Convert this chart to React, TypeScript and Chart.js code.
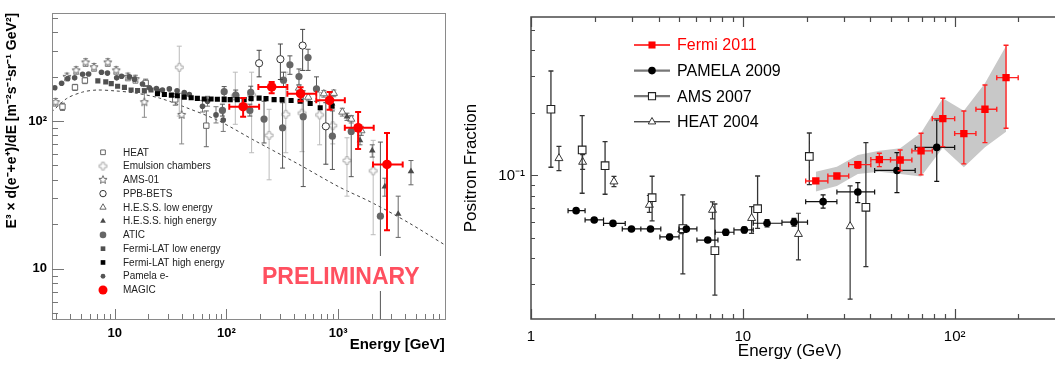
import React, { useEffect, useRef } from 'react';
import { Chart, registerables } from 'chart.js';

Chart.register(...registerables);
const FONT = "'Liberation Sans', Arial, Helvetica, sans-serif";
Chart.defaults.font.family = FONT;
Chart.defaults.color = '#000';

/* ================= Left panel: e+e- spectrum ================= */
const L_X_TICKS = [10, 100, 1000];
const L_X_LABELS = ['10', '10²', '10³'];
const L_Y_TICKS = [10, 100];
const L_Y_LABELS = ['10', '10²'];

const MODEL_E = [2.72, 3.71, 5.15, 6.87, 9.94, 15, 25.1, 46.5, 86, 177, 446, 1012, 1995, 4270, 8770];
const MODEL_V = [115, 142, 157, 162, 160, 155, 143, 121, 100, 74, 50.8, 35.9, 28.1, 20.5, 14.7];

const HEAT_E = [3.4, 4.4, 5.4, 18.9, 34.8, 66];
const HEAT_V = [125, 169, 188, 181, 140, 93];
const HEAT_LO = [118, 161, 179, 171, 128, 67];
const HEAT_HI = [132, 177, 197, 192, 153, 117];

const EMUL_E = [37.8, 120, 168, 241, 340, 475, 683, 895, 1200, 2060];
const EMUL_V = [231, 148, 150, 80, 111, 113, 110, 93, 54, 46];
const EMUL_LO = [108, 95, 61, 40, 61, 62, 69, 70, 31, 17];
const EMUL_HI = [321, 214, 214, 120, 214, 160, 156, 120, 77, 74];

const AMS01_E = [2.95, 3.73, 4.51, 5.48, 6.52, 8.66, 10.3, 13.1, 15.3, 18.4, 39.7];
const AMS01_V = [134, 199, 220, 249, 231, 249, 220, 199, 192, 134, 110];
const AMS01_LO = [126, 187, 207, 234, 217, 234, 207, 187, 180, 106, 70];
const AMS01_HI = [142, 211, 233, 264, 245, 264, 233, 211, 204, 166, 154];

const PPB_E = [196, 304, 481, 776];
const PPB_V = [246, 262, 324, 92];
const PPB_LO = [199, 191, 220, 51];
const PPB_HI = [301, 332, 417, 133];

const HESSL_E = [446, 540, 745, 915, 1090, 1310, 1615];
const HESSL_V = [167, 145, 153, 154, 115, 103, 86];
const HESSL_LO = [158, 137, 145, 146, 108, 97, 80];
const HESSL_HI = [176, 153, 161, 162, 122, 109, 92];

const HESSH_E = [883, 1200, 1570, 2020, 2620, 3450, 4490];
const HESSH_V = [131, 107, 74, 63, 36, 23.5, 45.6];
const HESSH_LO = [124, 101, 69, 57, 31, 16.3, 37];
const HESSH_HI = [138, 113, 80, 69, 41, 31, 54];

const ATIC_E = [92, 95.4, 121, 162, 165, 217, 318, 324, 370, 446, 487, 538, 640, 888, 1310, 2390];
const ATIC_V = [118, 158, 150, 118, 156, 103, 90, 189, 240, 200, 107, 269, 165, 79, 85, 22.7];
const ATIC_LO = [108, 146, 139, 108, 140, 71, 48, 171, 207, 175, 36, 220, 136, 47, 42, 4.5];
const ATIC_HI = [130, 171, 162, 130, 172, 136, 133, 214, 276, 225, 160, 306, 199, 117, 108, 72];

const PAM_E = [2.9, 3.34, 3.79, 4.37, 5.15, 5.83, 7.6, 8.6, 10.4, 11.5, 13.5, 15, 17.7, 20.4, 23.6, 26.7, 30.8, 36.1, 41.9, 46.5, 61, 67.7, 80.6, 93.6];
const PAM_V = [168, 180, 194, 196, 207, 208, 214, 211, 196, 201, 199, 192, 178, 168, 166, 162, 165, 160, 156, 151, 126, 136, 110, 101.5];
const PAM_LO = [null, null, null, null, null, null, null, null, null, null, null, null, null, null, null, null, null, null, null, null, 115, 126, 97, 85];
const PAM_HI = [null, null, null, null, null, null, null, null, null, null, null, null, null, null, null, null, null, null, null, null, 138, 147, 125, 120];

const FLOW_E = [7.05, 8.3, 9.3, 10.6, 12.2, 14, 16, 18.4, 21.1, 24.2];
const FLOW_V = [187, 184, 179, 172, 169, 162, 161, 160, 162, 159];

const FHIGH_E = [24.1, 27.8, 32.1, 36.3, 41.9, 48.3, 54.9, 63.2, 72.8, 82.9, 95.4, 108, 125, 144, 166, 196, 226, 267, 315, 379, 457, 562, 691, 882];
const FHIGH_V = [152.8, 151.2, 149.6, 148.3, 145.1, 143.8, 142.3, 140.8, 140.8, 140.2, 139.5, 139.5, 139.5, 139.5, 141.7, 142.9, 141.7, 139.5, 139.5, 137.5, 136, 131.3, 122.9, 126.1];

const MAGIC_E = [141, 254, 461, 838, 1510, 2738];
const MAGIC_V = [125, 170, 153, 138, 90, 50.8];
const MAGIC_ELO = [106, 193, 351, 637, 1148, 2053];
const MAGIC_EHI = [196, 351, 637, 1148, 2083, 3785];
const MAGIC_LO = [107, 154, 136, 119, 64.7, 18.2];
const MAGIC_HI = [143, 184, 169, 157, 115, 82.8];

/* ================= Right panel: positron fraction ================= */
const R_X_TICKS = [1, 10, 100];
const R_X_LABELS = ['1', '10', '10²'];
const R_Y_TICKS = [0.1];
const R_Y_LABELS = ['10⁻¹'];

const FERMI_E = [22.1, 27.8, 34.9, 44.1, 55.3, 69.4, 87.9, 110.5, 139, 174.8];
const FERMI_F = [0.0941, 0.0994, 0.1127, 0.1192, 0.1187, 0.1312, 0.1875, 0.1589, 0.2081, 0.2953];
const FERMI_ELO = [19.8, 25.2, 31.6, 40.2, 49.8, 62.8, 78.4, 100, 126, 158];
const FERMI_EHI = [25.2, 31.6, 40.2, 49.8, 62.8, 78.4, 100, 126, 158, 199.5];
const FERMI_FLO = [0.0917, 0.0969, 0.1083, 0.1102, 0.1054, 0.1006, 0.1376, 0.1136, 0.1438, 0.1686];
const FERMI_FHI = [0.0965, 0.1017, 0.1165, 0.1279, 0.1326, 0.1596, 0.235, 0.2042, 0.2723, 0.4227];
const BAND_UP = [0.1043, 0.1102, 0.1255, 0.1316, 0.1351, 0.1606, 0.235, 0.2049, 0.2775, 0.4194];
const BAND_LO = [0.0836, 0.089, 0.1017, 0.1043, 0.1017, 0.0987, 0.136, 0.1095, 0.1366, 0.1624];

const PAMELA_E = [1.633, 1.988, 2.438, 2.98, 3.666, 4.51, 5.411, 6.83, 8.31, 10.16, 13.01, 17.44, 23.93, 34.9, 53.4, 82.3];
const PAMELA_F = [0.0677, 0.0611, 0.0588, 0.0553, 0.0553, 0.0506, 0.0553, 0.0489, 0.0533, 0.0547, 0.0589, 0.0596, 0.0748, 0.0833, 0.1057, 0.1364];
const PAMELA_ELO = [1.496, 1.8, 2.2, 2.697, 3.3, 4.06, 5.0, 6.07, 7.41, 9.08, 11.2, 15.3, 19.8, 27.8, 41.9, 65.1];
const PAMELA_EHI = [1.8, 2.2, 2.785, 3.3, 4.1, 5.0, 6.07, 7.63, 9.08, 11.2, 15.3, 20.2, 27.8, 41.9, 65.1, 100];
const PAMELA_FLO = [0.0665, 0.0601, 0.0578, 0.0545, 0.0545, 0.0491, 0.054, 0.0476, 0.0515, 0.053, 0.0565, 0.057, 0.0696, 0.074, 0.0827, 0.0936];
const PAMELA_FHI = [0.069, 0.0621, 0.0598, 0.0561, 0.0561, 0.0521, 0.0566, 0.0502, 0.0551, 0.0564, 0.0613, 0.0622, 0.0806, 0.0923, 0.1287, 0.1848];

const AMS_E = [1.242, 1.744, 2.237, 3.73, 5.21, 7.38, 11.74, 20.6, 38.1];
const AMS_F = [0.2081, 0.1326, 0.1114, 0.0782, 0.0555, 0.0435, 0.0692, 0.1234, 0.0703];
const AMS_FLO = [0.1095, 0.0821, 0.0812, 0.0604, 0.0336, 0.0266, 0.0557, 0.0903, 0.0364];
const AMS_FHI = [0.3179, 0.1938, 0.1454, 0.0991, 0.0806, 0.0729, 0.0994, 0.16, 0.1438];

const HEAT04_E = [1.355, 1.753, 2.464, 3.62, 5.14, 7.19, 11.0, 18.3, 32.1];
const HEAT04_F = [0.1209, 0.1161, 0.0934, 0.0721, 0.0549, 0.0682, 0.0623, 0.0522, 0.0569];
const HEAT04_FLO = [0.1054, 0.107, 0.0884, 0.0665, 0.0525, 0.0618, 0.0527, 0.0393, 0.0254];
const HEAT04_FHI = [0.1381, 0.126, 0.0989, 0.0801, 0.0575, 0.0746, 0.0708, 0.0658, 0.089];

/* ================= helpers ================= */
function pts(E: number[], V: number[], lo?: any[], hi?: any[], xlo?: number[], xhi?: number[]) {
  return E.map((x, i) => {
    const p: any = { x, y: V[i] };
    if (lo && hi && lo[i] != null && hi[i] != null) { p.yMin = lo[i]; p.yMax = hi[i]; }
    if (xlo && xhi) { p.xMin = xlo[i]; p.xMax = xhi[i]; }
    return p;
  });
}

function makeStar(r: number, color: string) {
  const s = Math.ceil(2 * r + 3);
  const c = document.createElement('canvas');
  c.width = s; c.height = s;
  const g = c.getContext('2d')!;
  const m = s / 2;
  g.beginPath();
  for (let i = 0; i < 10; i++) {
    const a = -Math.PI / 2 + (i * Math.PI) / 5;
    const rr = i % 2 === 0 ? r : r * 0.45;
    const px = m + rr * Math.cos(a), py = m + rr * Math.sin(a);
    if (i === 0) g.moveTo(px, py); else g.lineTo(px, py);
  }
  g.closePath();
  g.fillStyle = '#fff'; g.fill();
  g.strokeStyle = color; g.lineWidth = 1; g.stroke();
  return c;
}

function makeCross(r: number, w: number, color: string) {
  const s = Math.ceil(2 * r + 3);
  const c = document.createElement('canvas');
  c.width = s; c.height = s;
  const g = c.getContext('2d')!;
  const m = s / 2;
  const P = [[-w, -r], [w, -r], [w, -w], [r, -w], [r, w], [w, w], [w, r], [-w, r], [-w, w], [-r, w], [-r, -w], [-w, -w]];
  g.beginPath();
  P.forEach(([dx, dy], i) => (i ? g.lineTo(m + dx, m + dy) : g.moveTo(m + dx, m + dy)));
  g.closePath();
  g.fillStyle = '#fff'; g.fill();
  g.strokeStyle = color; g.lineWidth = 1; g.stroke();
  return c;
}

function drawMarker(ctx: CanvasRenderingContext2D, m: any, x: number, y: number) {
  if (m.img) { ctx.drawImage(m.img, x - m.img.width / 2, y - m.img.height / 2); return; }
  const r = m.r;
  ctx.beginPath();
  if (m.style === 'circle') ctx.arc(x, y, r, 0, Math.PI * 2);
  else if (m.style === 'rect') { const s = r * Math.SQRT1_2; ctx.rect(x - s, y - s, 2 * s, 2 * s); }
  else if (m.style === 'triangle') {
    for (let k = 0; k < 3; k++) {
      const a = (k * 2 * Math.PI) / 3;
      const px = x + Math.sin(a) * r, py = y - Math.cos(a) * r;
      if (k) ctx.lineTo(px, py); else ctx.moveTo(px, py);
    }
    ctx.closePath();
  }
  if (m.fill) { ctx.fillStyle = m.fill; ctx.fill(); }
  if (m.stroke) { ctx.strokeStyle = m.stroke; ctx.lineWidth = m.lw || 1; ctx.stroke(); }
}

const errPlugin = {
  id: 'errbars',
  beforeDatasetDraw(chart: any, args: any) {
    const ds = chart.data.datasets[args.index];
    const e = ds.err;
    if (!e) return;
    const { ctx, chartArea: a } = chart;
    const xs = chart.scales.x, ys = chart.scales.y;
    ctx.save();
    ctx.beginPath();
    ctx.rect(a.left, a.top, a.right - a.left, a.bottom - a.top);
    ctx.clip();
    ctx.strokeStyle = e.color;
    ctx.lineWidth = e.width;
    ctx.beginPath();
    for (const p of ds.data) {
      const px = xs.getPixelForValue(p.x), py = ys.getPixelForValue(p.y);
      if (p.yMin != null) {
        const y1 = ys.getPixelForValue(p.yMin), y2 = ys.getPixelForValue(p.yMax);
        ctx.moveTo(px, y1); ctx.lineTo(px, y2);
        if (e.cap) {
          ctx.moveTo(px - e.cap, y1); ctx.lineTo(px + e.cap, y1);
          ctx.moveTo(px - e.cap, y2); ctx.lineTo(px + e.cap, y2);
        }
      }
      if (p.xMin != null) {
        const x1 = xs.getPixelForValue(p.xMin), x2 = xs.getPixelForValue(p.xMax);
        ctx.moveTo(x1, py); ctx.lineTo(x2, py);
        if (e.cap) {
          ctx.moveTo(x1, py - e.cap); ctx.lineTo(x1, py + e.cap);
          ctx.moveTo(x2, py - e.cap); ctx.lineTo(x2, py + e.cap);
        }
      }
    }
    ctx.stroke();
    ctx.restore();
  },
};

function decades(lo: number, hi: number) {
  const out: number[] = [];
  for (let d = Math.floor(Math.log10(lo)); d <= Math.ceil(Math.log10(hi)); d++) {
    for (let k = 2; k <= 9; k++) {
      const v = k * Math.pow(10, d);
      if (v >= lo && v <= hi) out.push(v);
    }
  }
  return out;
}

function drawLogTicks(chart: any, o: any) {
  const { ctx, chartArea: a } = chart;
  const xs = chart.scales.x, ys = chart.scales.y;
  ctx.save();
  ctx.strokeStyle = o.color;
  ctx.lineWidth = o.lw;
  ctx.beginPath();
  const xt = (vals: number[], len: number) => vals.forEach((v) => {
    const px = Math.round(xs.getPixelForValue(v)) + 0.5;
    if (px < a.left || px > a.right) return;
    ctx.moveTo(px, a.bottom); ctx.lineTo(px, a.bottom - len);
    if (o.top) { ctx.moveTo(px, a.top); ctx.lineTo(px, a.top + len); }
  });
  const yt = (vals: number[], len: number) => vals.forEach((v) => {
    const py = Math.round(ys.getPixelForValue(v)) + 0.5;
    if (py < a.top || py > a.bottom) return;
    ctx.moveTo(a.left, py); ctx.lineTo(a.left + len, py);
  });
  xt(o.xMaj, o.xMajLen); xt(o.xMin, o.xMinLen);
  yt(o.yMaj, o.yMajLen); yt(o.yMin, o.yMinLen);
  ctx.stroke();
  ctx.restore();
}

/* ================= Left chart ================= */
function LeftChart() {
  const ref = useRef<HTMLCanvasElement>(null);
  useEffect(() => {
    const star = makeStar(4.3, '#6a6a6a');
    const cross = makeCross(3.8, 1.4, '#a8a8a8');
    const sc = (label: string, data: any[], style: any, r: number, bg: string, bd: string, bw: number, order: number, err?: any) => ({
      label, data, order, err,
      pointStyle: style, pointRadius: r, pointHoverRadius: r,
      pointBackgroundColor: bg, pointBorderColor: bd, pointBorderWidth: bw,
      backgroundColor: bg, borderColor: bd, borderWidth: bw,
    });
    const datasets: any[] = [
      sc('MAGIC', pts(MAGIC_E, MAGIC_V, MAGIC_LO, MAGIC_HI, MAGIC_ELO, MAGIC_EHI), 'circle', 4.8, '#ff0000', '#ff0000', 0, 0, { color: '#ff0000', width: 2, cap: 3 }),
      sc('Fermi-LAT high energy', pts(FHIGH_E, FHIGH_V), 'rect', 3.6, '#000', '#000', 0, 1),
      sc('Fermi-LAT low energy', pts(FLOW_E, FLOW_V), 'rect', 3.6, '#505050', '#505050', 0, 2),
      sc('PPB-BETS', pts(PPB_E, PPB_V, PPB_LO, PPB_HI), 'circle', 3.6, '#fff', '#333', 1, 3, { color: '#444', width: 1, cap: 2.5 }),
      sc('H.E.S.S. high energy', pts(HESSH_E, HESSH_V, HESSH_LO, HESSH_HI), 'triangle', 3.8, '#4a4a4a', '#4a4a4a', 0, 4, { color: '#666', width: 1, cap: 2.5 }),
      sc('H.E.S.S. low energy', pts(HESSL_E, HESSL_V, HESSL_LO, HESSL_HI), 'triangle', 4.2, '#fff', '#6a6a6a', 1, 5, { color: '#777', width: 1, cap: 2.5 }),
      sc('ATIC', pts(ATIC_E, ATIC_V, ATIC_LO, ATIC_HI), 'circle', 3.6, '#666', '#666', 0, 6, { color: '#555', width: 1, cap: 2.5 }),
      sc('Pamela e-', pts(PAM_E, PAM_V, PAM_LO, PAM_HI), 'circle', 2.8, '#555', '#555', 0, 7, { color: '#777', width: 1, cap: 2.5 }),
      sc('HEAT', pts(HEAT_E, HEAT_V, HEAT_LO, HEAT_HI), 'rect', 3.8, '#fff', '#666', 1, 8, { color: '#666', width: 1, cap: 2.5 }),
      sc('AMS-01', pts(AMS01_E, AMS01_V, AMS01_LO, AMS01_HI), star, 4.3, '#fff', '#777', 1, 9, { color: '#888', width: 1, cap: 2.5 }),
      sc('Emulsion chambers', pts(EMUL_E, EMUL_V, EMUL_LO, EMUL_HI), cross, 3.8, '#fff', '#aaa', 1, 10, { color: '#bbb', width: 1, cap: 2.5 }),
      {
        type: 'line', label: 'model', data: pts(MODEL_E, MODEL_V), order: 11,
        borderColor: '#444', borderWidth: 1, borderDash: [3, 3], pointRadius: 0, tension: 0.3, fill: false,
      },
    ];

    const legendRows = [
      { t: 'HEAT', style: 'rect', r: 3.3, fill: '#fff', stroke: '#666', lw: 1 },
      { t: 'Emulsion chambers', img: cross },
      { t: 'AMS-01', img: star },
      { t: 'PPB-BETS', style: 'circle', r: 3.2, fill: '#fff', stroke: '#333', lw: 1 },
      { t: 'H.E.S.S. low energy', style: 'triangle', r: 3.6, fill: '#fff', stroke: '#666', lw: 1 },
      { t: 'H.E.S.S. high energy', style: 'triangle', r: 3.3, fill: '#4a4a4a' },
      { t: 'ATIC', style: 'circle', r: 3.3, fill: '#666' },
      { t: 'Fermi-LAT low energy', style: 'rect', r: 3.3, fill: '#505050' },
      { t: 'Fermi-LAT high energy', style: 'rect', r: 3.3, fill: '#000' },
      { t: 'Pamela e-', style: 'circle', r: 2.4, fill: '#555' },
      { t: 'MAGIC', style: 'circle', r: 4.5, fill: '#ff0000' },
    ];

    const decor = {
      id: 'leftDecor',
      afterDatasetsDraw(chart: any) {
        const { ctx } = chart;
        ctx.save();
        ctx.fillStyle = '#fff';
        ctx.fillRect(259, 256, 166, 35);
        ctx.font = `bold 23px ${FONT}`;
        ctx.fillStyle = '#ff5060';
        ctx.textBaseline = 'alphabetic';
        ctx.fillText('PRELIMINARY', 262, 284);
        ctx.restore();
      },
      afterDraw(chart: any) {
        const { ctx, chartArea: a } = chart;
        ctx.save();
        ctx.strokeStyle = '#8a8a8a';
        ctx.lineWidth = 1;
        ctx.strokeRect(Math.round(a.left) + 0.5, Math.round(a.top) + 0.5, Math.round(a.right - a.left), Math.round(a.bottom - a.top));
        ctx.restore();
        drawLogTicks(chart, {
          color: '#777', lw: 1, top: false,
          xMaj: L_X_TICKS, xMajLen: 10, xMin: decades(2.7, 9000), xMinLen: 5,
          yMaj: L_Y_TICKS, yMajLen: 12, yMin: decades(4.5, 540), yMinLen: 6,
        });
        ctx.save();
        ctx.font = `10px ${FONT}`;
        ctx.textBaseline = 'middle';
        legendRows.forEach((row, i) => {
          const y = 152.3 + i * 13.77;
          drawMarker(ctx, row, 103, y);
          ctx.fillStyle = '#222';
          ctx.fillText(row.t, 123, y + 0.5);
        });
        ctx.restore();
      },
    };

    const chart = new Chart(ref.current!, {
      type: 'scatter',
      data: { datasets },
      plugins: [errPlugin, decor],
      options: {
        responsive: false,
        animation: false,
        events: [],
        layout: { padding: { left: 0, top: 4, right: 4, bottom: 0 } },
        plugins: { legend: { display: false }, tooltip: { enabled: false } },
        scales: {
          x: {
            type: 'logarithmic', min: 2.74, max: 9000,
            grid: { display: false, drawTicks: false }, border: { display: false },
            afterBuildTicks: (s: any) => { s.ticks = L_X_TICKS.map((v) => ({ value: v })); },
            afterFit: (s: any) => { s.height = 46; },
            ticks: {
              autoSkip: false, maxRotation: 0, padding: 7, color: '#000',
              font: { size: 13, weight: 'bold' },
              callback: (v: any) => { const i = L_X_TICKS.indexOf(Number(v)); return i >= 0 ? L_X_LABELS[i] : ''; },
            },
            title: { display: true, text: 'Energy [GeV]', align: 'end', color: '#000', font: { size: 15, weight: 'bold' }, padding: { top: 0, bottom: 11 } },
          },
          y: {
            type: 'logarithmic', min: 4.57, max: 540,
            grid: { display: false, drawTicks: false }, border: { display: false },
            afterBuildTicks: (s: any) => { s.ticks = L_Y_TICKS.map((v) => ({ value: v })); },
            afterFit: (s: any) => { s.width = 52; },
            ticks: {
              autoSkip: false, padding: 5, color: '#000',
              font: { size: 13, weight: 'bold' },
              callback: (v: any) => { const i = L_Y_TICKS.indexOf(Number(v)); return i >= 0 ? L_Y_LABELS[i] : ''; },
            },
            title: { display: true, text: 'E³ × d(e⁻+e⁺)/dE [m⁻²s⁻¹sr⁻¹ GeV²]', align: 'end', color: '#000', font: { size: 14, weight: 'bold' }, padding: { top: 4, bottom: 0 } },
          },
        },
      } as any,
    });
    return () => chart.destroy();
  }, []);
  return <canvas ref={ref} width={450} height={365} style={{ position: 'absolute', left: 0, top: 0, width: 450, height: 365 }} />;
}

/* ================= Right chart ================= */
function RightChart() {
  const ref = useRef<HTMLCanvasElement>(null);
  useEffect(() => {
    const sc = (label: string, data: any[], style: any, r: number, bg: string, bd: string, bw: number, order: number, err?: any) => ({
      label, data, order, err,
      pointStyle: style, pointRadius: r, pointHoverRadius: r,
      pointBackgroundColor: bg, pointBorderColor: bd, pointBorderWidth: bw,
      backgroundColor: bg, borderColor: bd, borderWidth: bw,
    });
    const datasets: any[] = [
      sc('Fermi 2011', pts(FERMI_E, FERMI_F, FERMI_FLO, FERMI_FHI, FERMI_ELO, FERMI_EHI), 'rect', 5.2, '#ff0000', '#ff0000', 0, 0, { color: '#ff2020', width: 1.4, cap: 2.5 }),
      sc('PAMELA 2009', pts(PAMELA_E, PAMELA_F, PAMELA_FLO, PAMELA_FHI, PAMELA_ELO, PAMELA_EHI), 'circle', 3.8, '#000', '#000', 0, 1, { color: '#111', width: 1.2, cap: 2.5 }),
      sc('AMS 2007', pts(AMS_E, AMS_F, AMS_FLO, AMS_FHI), 'rect', 5.4, '#fff', '#222', 1.1, 2, { color: '#333', width: 1.3, cap: 2.5 }),
      sc('HEAT 2004', pts(HEAT04_E, HEAT04_F, HEAT04_FLO, HEAT04_FHI), 'triangle', 4.6, '#fff', '#222', 0.9, 3, { color: '#333', width: 1.2, cap: 2.5 }),
      {
        type: 'line', label: 'band upper', data: pts(FERMI_E, BAND_UP), order: 5,
        borderWidth: 0, borderColor: 'rgba(0,0,0,0)', pointRadius: 0, tension: 0, fill: '+1', backgroundColor: '#c8c8c8',
      },
      {
        type: 'line', label: 'band lower', data: pts(FERMI_E, BAND_LO), order: 6,
        borderWidth: 0, borderColor: 'rgba(0,0,0,0)', pointRadius: 0, tension: 0, fill: false,
      },
    ];

    const legendRows = [
      { t: 'Fermi 2011', color: '#ff0000', line: '#ff0000', lw: 1.4, m: { style: 'rect', r: 5, fill: '#ff0000' } },
      { t: 'PAMELA 2009', color: '#000', line: '#777', lw: 2.2, m: { style: 'circle', r: 3.8, fill: '#000' } },
      { t: 'AMS 2007', color: '#000', line: '#777', lw: 2.2, m: { style: 'rect', r: 5, fill: '#fff', stroke: '#222', lw: 1.1 } },
      { t: 'HEAT 2004', color: '#000', line: '#000', lw: 1, m: { style: 'triangle', r: 4.3, fill: '#fff', stroke: '#222', lw: 0.9 } },
    ];

    const decor = {
      id: 'rightDecor',
      afterDraw(chart: any) {
        const { ctx, chartArea: a, width } = chart;
        ctx.save();
        ctx.strokeStyle = '#4a4a4a';
        ctx.lineWidth = 1.5;
        ctx.beginPath();
        ctx.moveTo(width, a.top); ctx.lineTo(a.left, a.top); ctx.lineTo(a.left, a.bottom); ctx.lineTo(width, a.bottom);
        ctx.stroke();
        ctx.restore();
        drawLogTicks(chart, {
          color: '#4a4a4a', lw: 1.2, top: true,
          xMaj: R_X_TICKS, xMajLen: 10, xMin: decades(1, 280), xMinLen: 5,
          yMaj: R_Y_TICKS, yMajLen: 7, yMin: decades(0.0204, 0.578), yMinLen: 4,
        });
        ctx.save();
        ctx.font = `16px ${FONT}`;
        ctx.textBaseline = 'middle';
        legendRows.forEach((row, i) => {
          const y = 45 + i * 25.6;
          ctx.strokeStyle = row.line; ctx.lineWidth = row.lw;
          ctx.beginPath(); ctx.moveTo(184, y); ctx.lineTo(220, y); ctx.stroke();
          drawMarker(ctx, row.m, 202, y);
          ctx.fillStyle = row.color;
          ctx.fillText(row.t, 227, y + 1);
        });
        ctx.restore();
      },
    };

    const chart = new Chart(ref.current!, {
      type: 'scatter',
      data: { datasets },
      plugins: [errPlugin, decor],
      options: {
        responsive: false,
        animation: false,
        events: [],
        layout: { padding: { left: 0, top: 17, right: 0, bottom: 0 } },
        plugins: { legend: { display: false }, tooltip: { enabled: false } },
        scales: {
          x: {
            type: 'logarithmic', min: 1, max: 277.3,
            grid: { display: false, drawTicks: false }, border: { display: false },
            afterBuildTicks: (s: any) => { s.ticks = R_X_TICKS.map((v) => ({ value: v })); },
            afterFit: (s: any) => { s.height = 46; },
            ticks: {
              autoSkip: false, maxRotation: 0, padding: 9, color: '#000',
              font: { size: 15 },
              callback: (v: any) => { const i = R_X_TICKS.indexOf(Number(v)); return i >= 0 ? R_X_LABELS[i] : ''; },
            },
            title: { display: true, text: 'Energy (GeV)', color: '#000', font: { size: 17 }, padding: { top: 0, bottom: 3 } },
          },
          y: {
            type: 'logarithmic', min: 0.0204, max: 0.578,
            grid: { display: false, drawTicks: false }, border: { display: false },
            afterBuildTicks: (s: any) => { s.ticks = R_Y_TICKS.map((v) => ({ value: v })); },
            afterFit: (s: any) => { s.width = 81; },
            ticks: {
              autoSkip: false, padding: 6, color: '#000',
              font: { size: 15 },
              callback: (v: any) => { const i = R_Y_TICKS.indexOf(Number(v)); return i >= 0 ? R_Y_LABELS[i] : ''; },
            },
            title: { display: true, text: 'Positron Fraction', color: '#000', font: { size: 17 }, padding: { top: 11, bottom: 0 } },
          },
        },
      } as any,
    });
    return () => chart.destroy();
  }, []);
  return <canvas ref={ref} width={605} height={365} style={{ position: 'absolute', left: 450, top: 0, width: 605, height: 365 }} />;
}

export default function App() {
  return (
    <div style={{ position: 'fixed', left: 0, top: 0, width: 1055, height: 365, overflow: 'hidden', background: '#fff' }}>
      <LeftChart />
      <RightChart />
    </div>
  );
}
